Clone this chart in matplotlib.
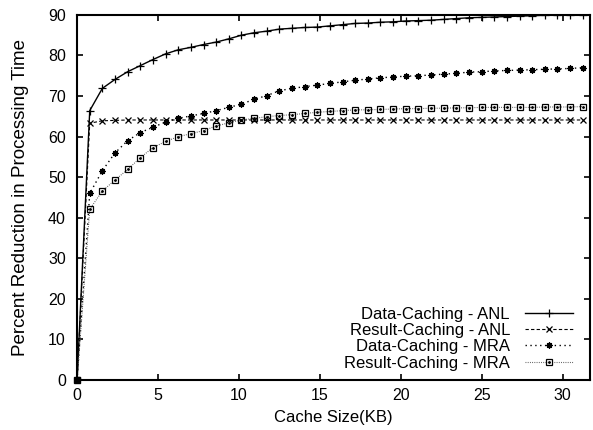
import numpy as np
import matplotlib.pyplot as plt
from matplotlib.legend_handler import HandlerTuple

plt.rcParams['font.family'] = ['Liberation Sans', 'DejaVu Sans']

# cache size samples (KB), 0 .. 31.25 in steps of 0.78125
cache_kb = np.arange(41) * 0.78125

data_anl = [0, 66.4, 71.9, 74.1, 76.0, 77.5, 79.0, 80.4, 81.4, 82.0, 82.7,
            83.3, 84.1, 85.0, 85.6, 86.0, 86.5, 86.7, 86.9, 87.0, 87.3,
            87.6, 87.9, 88.0, 88.2, 88.3, 88.5, 88.6, 88.7, 88.9, 89.1,
            89.3, 89.4, 89.5, 89.6, 89.7, 89.8, 89.9, 89.9, 90.0, 90.0]
result_anl = [0, 63.3, 63.9, 64.0, 64.1, 64.1, 64.1, 64.1, 64.1, 64.1, 64.1,
              64.1, 64.1, 64.1, 64.1, 64.1, 64.1, 64.1, 64.1, 64.1, 64.1,
              64.1, 64.1, 64.1, 64.1, 64.1, 64.1, 64.1, 64.1, 64.1, 64.1,
              64.1, 64.1, 64.1, 64.1, 64.1, 64.1, 64.1, 64.1, 64.1, 64.1]
data_mra = [0, 46.0, 51.6, 56.0, 59.0, 61.0, 62.3, 63.6, 64.5, 65.1, 65.7,
            66.4, 67.2, 68.0, 69.2, 70.1, 71.3, 71.9, 72.3, 72.7, 73.1,
            73.5, 73.9, 74.2, 74.5, 74.7, 74.9, 75.0, 75.2, 75.4, 75.6,
            75.9, 76.0, 76.2, 76.3, 76.4, 76.5, 76.6, 76.7, 76.8, 77.0]
result_mra = [0, 42.1, 46.6, 49.3, 51.9, 54.8, 57.3, 58.8, 60.0, 60.7, 61.5,
              62.6, 63.4, 64.1, 64.5, 64.9, 65.2, 65.4, 65.7, 66.0, 66.2,
              66.4, 66.6, 66.6, 66.7, 66.8, 66.9, 66.9, 67.0, 67.0, 67.1,
              67.1, 67.2, 67.2, 67.2, 67.2, 67.2, 67.3, 67.3, 67.3, 67.4]

labels = ['Data-Caching - ANL', 'Result-Caching - ANL',
          'Data-Caching - MRA', 'Result-Caching - MRA']

fig = plt.figure(figsize=(5.93, 4.30), dpi=100)
ax = fig.add_axes([0.130, 0.1163, 0.865, 0.849])

l1, = ax.plot(cache_kb, data_anl, color='black', lw=1.0, ls='-',
              marker='+', ms=6, mew=0.9)
l2, = ax.plot(cache_kb, result_anl, color='black', lw=0.8, ls=(0, (3, 2)),
              marker='x', ms=4, mew=0.9)
l3, = ax.plot(cache_kb, data_mra, color='black', lw=1.0, ls=(0, (1, 2.5)),
              marker=(8, 2, 0), ms=4.5, mew=0.9)
l4, = ax.plot(cache_kb, result_mra, color='#555555', lw=0.8, ls=(0, (0.8, 1.2)),
              marker='s', ms=5, mew=0.9, mec='black', mfc='none')
dots, = ax.plot(cache_kb, result_mra, ls='none', marker='.', ms=2,
                color='black')

# the overlapping markers at the origin read as one solid block
ax.plot(cache_kb[0], result_mra[0], marker='s', ms=5, color='black',
        clip_on=False)

ax.set_xlim(0, 31.7)
ax.set_ylim(0, 90)
ax.set_xticks(range(0, 31, 5))
ax.set_yticks(range(0, 91, 10))
ax.tick_params(direction='in', length=4, width=1.2, top=True, right=True,
               labelsize=11.5)
ax.tick_params(axis='x', pad=6)
ax.tick_params(axis='y', pad=8)
for sp in ax.spines.values():
    sp.set_linewidth(1.5)

ax.set_xlabel('Cache Size(KB)', fontsize=12, labelpad=5)
ax.set_ylabel('Percent Reduction in Processing Time', fontsize=13.5, labelpad=14)

ax.legend([l1, l2, l3, (l4, dots)], labels,
          handler_map={tuple: HandlerTuple(ndivide=1)},
          loc='lower right', bbox_to_anchor=(0.99, -0.006),
          frameon=False, markerfirst=False, numpoints=1,
          handlelength=2.9, handletextpad=0.9, labelspacing=0.08,
          fontsize=12, borderpad=0.2)

fig.savefig('out.png', dpi=100)
